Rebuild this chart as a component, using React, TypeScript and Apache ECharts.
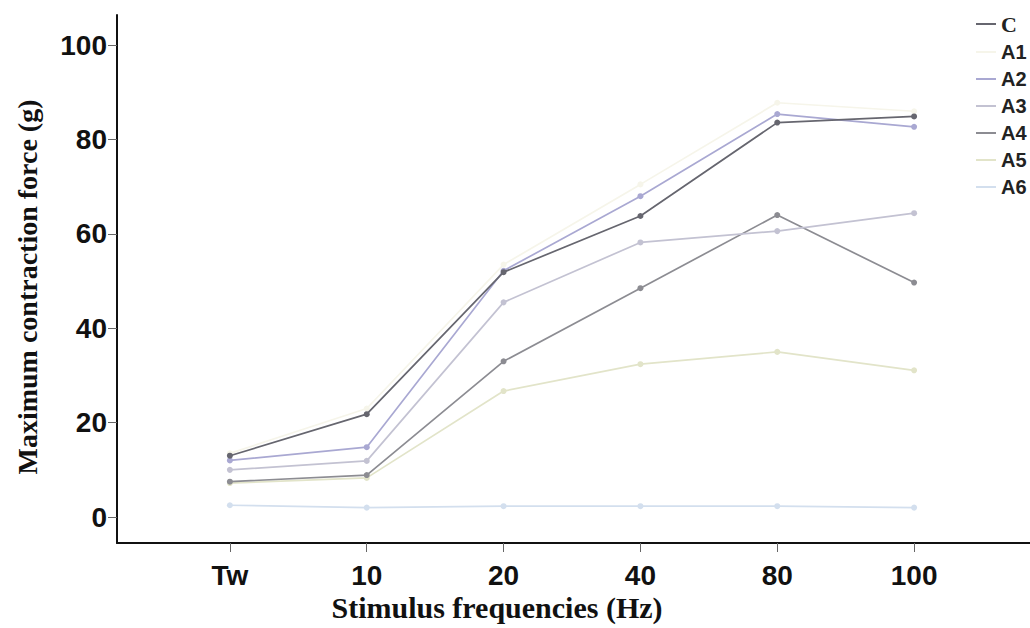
import React, { useEffect, useRef } from "react";
import * as echarts from "echarts";

const categories = ["Tw", "10", "20", "40", "80", "100"];
const seriesNames = ["C", "A1", "A2", "A3", "A4", "A5", "A6"];
const valuesC = [13.0, 21.8, 51.9, 63.8, 83.6, 84.9];
const valuesA1 = [13.5, 23.0, 53.5, 70.5, 87.8, 86.0];
const valuesA2 = [12.0, 14.8, 52.2, 68.0, 85.4, 82.7];
const valuesA3 = [10.0, 11.9, 45.5, 58.2, 60.6, 64.4];
const valuesA4 = [7.5, 8.9, 33.0, 48.5, 64.0, 49.7];
const valuesA5 = [7.2, 8.3, 26.7, 32.4, 35.0, 31.1];
const valuesA6 = [2.5, 2.0, 2.3, 2.3, 2.3, 2.0];
const yTicks = [0, 20, 40, 60, 80, 100];

const allValues = [valuesC, valuesA1, valuesA2, valuesA3, valuesA4, valuesA5, valuesA6];
const colors = ["#66666f", "#f6f5ea", "#a9a8d2", "#c3c2d2", "#8c8c92", "#e2e4c9", "#d3dfee"];

export default function App() {
  const ref = useRef<HTMLDivElement>(null);
  useEffect(() => {
    document.body.style.margin = "0";
    const chart = echarts.init(ref.current!, null, { renderer: "svg" });
    const series = seriesNames.map((name, si) => ({
      name,
      type: "line",
      data: allValues[si].map((v, i) => [i, v]),
      symbol: "circle",
      symbolSize: 6,
      lineStyle: { color: colors[si], width: 1.7 },
      itemStyle: { color: colors[si] },
      z: 10 - si,
    }));
    chart.setOption({
      animation: false,
      backgroundColor: "#ffffff",
      grid: { left: 117, right: 0, top: 15, bottom: 85 },
      xAxis: {
        type: "value",
        min: -0.825,
        max: 5.847,
        splitLine: { show: false },
        axisLine: { show: true, onZero: false, lineStyle: { color: "#111", width: 2 } },
        axisTick: { show: true, length: 9, customValues: [0, 1, 2, 3, 4, 5], lineStyle: { color: "#666", width: 1 } },
        axisLabel: {
          customValues: [0, 1, 2, 3, 4, 5],
          formatter: (v: number) => categories[Math.round(v)] ?? "",
          fontFamily: "Arial, Liberation Sans",
          fontWeight: "bold",
          fontSize: 28,
          color: "#111",
          margin: 18,
        },
      },
      yAxis: {
        type: "value",
        min: -5.5,
        max: 106.4,
        splitLine: { show: false },
        axisLine: { show: true, onZero: false, lineStyle: { color: "#111", width: 2 } },
        axisTick: { show: true, length: 9, customValues: yTicks, lineStyle: { color: "#666", width: 1 } },
        axisLabel: {
          customValues: yTicks,
          fontFamily: "Arial, Liberation Sans",
          fontWeight: "bold",
          fontSize: 28,
          color: "#111",
          margin: 10,
        },
      },
      legend: {
        data: seriesNames,
        orient: "vertical",
        left: 971,
        top: 8,
        itemWidth: 20,
        itemHeight: 2,
        itemGap: 7,
        icon: "rect",
        formatter: (n: string) => (n === "C" ? "{s|C}" : "{a|" + n + "}"),
        textStyle: {
          color: "#222",
          lineHeight: 18,
          rich: {
            s: { fontFamily: "Liberation Serif, Times New Roman", fontWeight: "bold", fontSize: 22, color: "#222", lineHeight: 18 },
            a: { fontFamily: "Arial, Liberation Sans", fontWeight: "bold", fontSize: 20, color: "#222", lineHeight: 18 },
          },
        },
      },
      graphic: [
        {
          type: "text",
          x: 497,
          y: 607,
          style: {
            text: "Stimulus frequencies (Hz)",
            font: "bold 30px 'Liberation Serif', 'Times New Roman', serif",
            fill: "#111",
            align: "center",
            verticalAlign: "middle",
          },
        },
        {
          type: "text",
          x: 27,
          y: 287,
          rotation: Math.PI / 2,
          style: {
            text: "Maximum contraction force (g)",
            font: "bold 28px 'Liberation Serif', 'Times New Roman', serif",
            fill: "#111",
            align: "center",
            verticalAlign: "middle",
          },
        },
      ],
      series,
    });
    return () => chart.dispose();
  }, []);
  return <div ref={ref} style={{ width: 1030, height: 628 }} />;
}
